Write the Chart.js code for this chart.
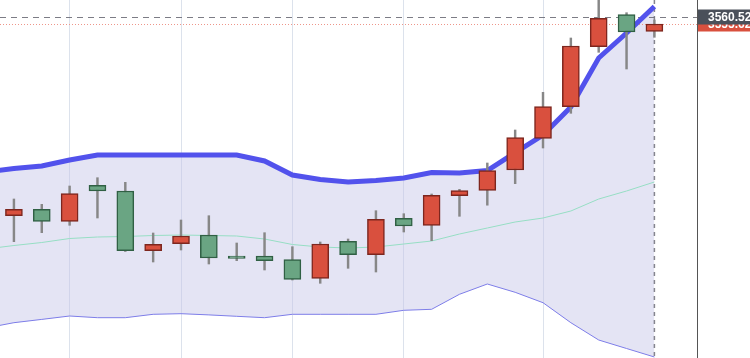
<!DOCTYPE html>
<html>
<head>
<meta charset="utf-8">
<script src="https://cdn.jsdelivr.net/npm/chart.js@4/dist/chart.umd.min.js"></script>
<style>
  html, body { margin: 0; padding: 0; background: #fff; }
  #wrap { width: 750px; height: 358px; position: relative; }
</style>
</head>
<body>
<div id="wrap"><canvas id="myChart"></canvas></div>
<script>
// candle index (0 = first full candle on screen)
const idx = [0,1,2,3,4,5,6,7,8,9,10,11,12,13,14,15,16,17,18,19,20,21,22,23];

const opens  = [3421.43,3425.91,3417.51,3442.71,3438.72,3396.93,3401.83,3407.92,3393.22,3393.22,3390.63,3377.61,
                3403.51,3394.13,3419.61,3414.71,3435.43,3439.21,3453.42,3475.61,3497.73,3539.73,3562.13,3550.51];
const highs  = [3433.12,3429.41,3442.22,3448.03,3444.81,3409.32,3418.42,3421.43,3402.32,3409.53,3399.73,3403.02,
                3405.12,3424.93,3422.83,3436.62,3439.91,3458.32,3481.42,3507.81,3545.82,3574.52,3563.53,3558.42];
const lows   = [3403.23,3409.53,3414.71,3419.82,3396.37,3389.02,3397.42,3387.62,3389.93,3383.42,3376.42,3374.11,
                3384.61,3382.02,3410.02,3403.93,3421.01,3428.78,3443.83,3468.82,3493.11,3535.81,3524.12,3546.31];
const closes = [3425.91,3417.51,3436.83,3438.72,3396.93,3401.41,3407.22,3391.82,3391.61,3389.93,3376.91,3401.62,
                3394.13,3418.91,3414.22,3435.71,3438.93,3452.93,3476.03,3497.73,3540.22,3559.61,3550.02,3555.62];

// bands start one candle before the first visible one
const bandIdx = [-1,0,1,2,3,4,5,6,7,8,9,10,11,12,13,14,15,16,17,18,19,20,21,22,23];
const upperBand  = [3452.02,3454.47,3456.22,3460.42,3463.92,3463.92,3463.92,3463.92,3463.92,3463.92,3459.72,3449.92,3446.77,
                    3445.02,3446.07,3447.82,3451.67,3451.32,3453.07,3465.62,3477.92,3497.52,3531.82,3549.32,3567.87];
const middleBand = [3398.12,3400.57,3402.67,3405.47,3406.52,3406.87,3407.57,3407.92,3407.57,3407.22,3405.12,3401.27,3399.52,
                    3398.82,3399.52,3401.62,3403.72,3408.62,3412.82,3417.02,3419.82,3424.72,3433.12,3438.72,3445.02];
const lowerBand  = [3342.82,3346.53,3348.84,3351.22,3350.03,3350.03,3352.41,3352.83,3351.99,3351.01,3350.03,3352.41,3352.41,
                    3352.41,3352.41,3355.21,3355.91,3366.41,3373.62,3367.81,3360.53,3346.53,3334.42,3328.47,3322.52];

const gridAt = [2, 6, 10, 14, 19];
const crossPrice = 3560.52;
const lastPrice = closes[closes.length - 1];

const RED = 'rgb(217,80,62)', RED_EDGE = 'rgb(125,38,30)';
const GREEN = 'rgb(106,165,131)', GREEN_EDGE = 'rgb(48,96,68)';
const up = closes.map((c, i) => c >= opens[i]);

const extras = {
    id: 'extras',
    beforeDatasetsDraw(chart) {
        const {ctx, chartArea: a, scales: {x, y}} = chart;
        ctx.save();
        ctx.lineWidth = 1;
        // crosshair horizontal
        ctx.strokeStyle = 'rgba(110,110,120,0.9)';
        ctx.setLineDash([6, 5]);
        let py = Math.round(y.getPixelForValue(crossPrice)) + 0.5;
        ctx.beginPath(); ctx.moveTo(a.left, py); ctx.lineTo(a.right, py); ctx.stroke();
        // last price dotted
        ctx.strokeStyle = 'rgb(238,150,138)';
        ctx.setLineDash([1, 2]);
        py = Math.round(y.getPixelForValue(lastPrice)) + 0.5;
        ctx.beginPath(); ctx.moveTo(a.left, py); ctx.lineTo(a.right, py); ctx.stroke();
        // crosshair vertical
        ctx.strokeStyle = 'rgba(120,120,130,0.9)';
        ctx.lineWidth = 1.5;
        ctx.setLineDash([4, 4]);
        const px = x.getPixelForValue(idx[idx.length - 1]);
        ctx.beginPath(); ctx.moveTo(px, a.top); ctx.lineTo(px, a.bottom); ctx.stroke();
        ctx.restore();
    },
    afterDraw(chart) {
        const {ctx, chartArea: a, scales: {y}} = chart;
        ctx.save();
        // price axis border
        ctx.strokeStyle = '#555';
        ctx.lineWidth = 1;
        ctx.beginPath(); ctx.moveTo(a.right + 0.5, 0); ctx.lineTo(a.right + 0.5, chart.height); ctx.stroke();
        ctx.font = 'bold 12px "Liberation Sans", Arial, sans-serif';
        ctx.textBaseline = 'middle';
        // last price label (mostly covered)
        let cy = y.getPixelForValue(lastPrice);
        ctx.fillStyle = RED;
        ctx.fillRect(a.right + 1, cy - 7.5, 60, 15);
        ctx.fillStyle = '#fff';
        ctx.fillText(lastPrice.toFixed(2), a.right + 11, cy + 1);
        // crosshair label
        cy = y.getPixelForValue(crossPrice);
        ctx.fillStyle = 'rgb(74,80,90)';
        ctx.fillRect(a.right + 1, cy - 7.5, 60, 15);
        ctx.fillStyle = '#fff';
        ctx.fillText(crossPrice.toFixed(2), a.right + 11, cy + 1);
        ctx.restore();
    }
};

const ctx = document.getElementById('myChart').getContext('2d');
window.myChart = new Chart(ctx, {
    type: 'bar',
    data: {
        datasets: [
            {
                label: 'body',
                data: idx.map(i => ({x: i, y: [opens[i], closes[i]]})),
                backgroundColor: up.map(u => u ? RED : GREEN),
                borderColor: up.map(u => u ? RED_EDGE : GREEN_EDGE),
                borderWidth: 1.5,
                borderSkipped: false,
                barThickness: 17,
                grouped: false,
                order: 0
            },
            {
                label: 'wick',
                data: idx.map(i => ({x: i, y: [lows[i], highs[i]]})),
                backgroundColor: 'rgb(135,135,135)',
                borderWidth: 0,
                barThickness: 1.8,
                grouped: false,
                order: 1
            },
            {
                type: 'line',
                label: 'upper',
                data: bandIdx.map((b, k) => ({x: b, y: upperBand[k]})),
                borderColor: 'rgb(82,82,236)',
                borderWidth: 5,
                pointRadius: 0,
                fill: {target: 4},
                backgroundColor: 'rgba(196,196,230,0.45)',
                order: 2
            },
            {
                type: 'line',
                label: 'middle',
                data: bandIdx.map((b, k) => ({x: b, y: middleBand[k]})),
                borderColor: 'rgb(150,222,196)',
                borderWidth: 1,
                pointRadius: 0,
                fill: false,
                order: 3
            },
            {
                type: 'line',
                label: 'lower',
                data: bandIdx.map((b, k) => ({x: b, y: lowerBand[k]})),
                borderColor: 'rgb(125,125,232)',
                borderWidth: 1,
                pointRadius: 0,
                fill: false,
                order: 4
            }
        ]
    },
    options: {
        responsive: true,
        maintainAspectRatio: false,
        animation: false,
        layout: { padding: { left: 0, right: 53, top: 0, bottom: 0 } },
        scales: {
            x: {
                type: 'linear',
                min: -0.5,
                max: 24.53,
                offset: false,
                afterBuildTicks: (s) => { s.ticks = gridAt.map(v => ({value: v})); },
                ticks: { display: false },
                grid: { color: 'rgba(205,214,228,0.7)', drawTicks: false, offset: false },
                border: { display: false }
            },
            y: {
                display: false,
                min: 3321.82,
                max: 3572.42
            }
        },
        plugins: {
            legend: { display: false },
            tooltip: { enabled: false },
            filler: { drawTime: 'beforeDatasetsDraw' }
        }
    },
    plugins: [extras]
});
</script>
</body>
</html>
